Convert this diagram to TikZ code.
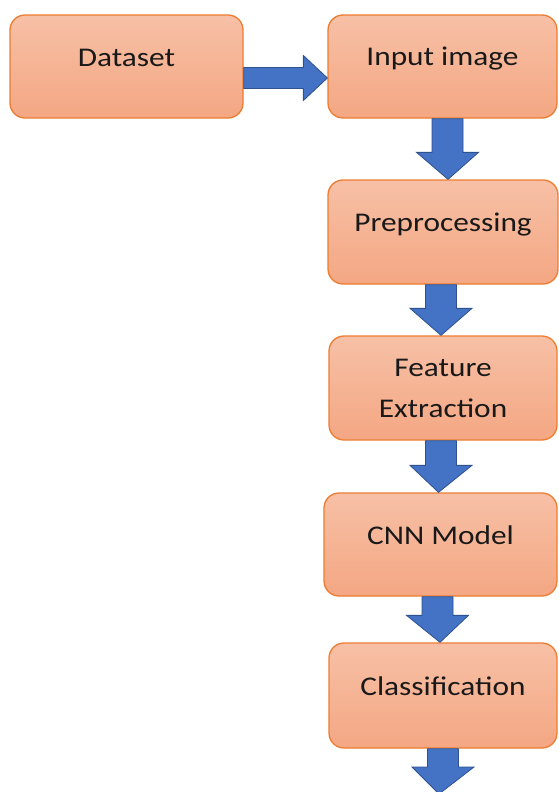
\documentclass[tikz,border=0pt]{standalone}
\usepackage{fontspec}
\setmainfont{Carlito}[FakeStretch=1.16]
\usetikzlibrary{calc}

\definecolor{boxtop}{RGB}{247,192,166}
\definecolor{boxbot}{RGB}{244,167,131}
\definecolor{boxline}{RGB}{237,125,49}
\definecolor{arrfill}{RGB}{68,114,196}
\definecolor{arrline}{RGB}{47,82,143}

\tikzset{
  stepbox/.style={draw=boxline, line width=1.3pt, rounded corners=15pt,
    top color=boxtop, bottom color=boxbot, inner sep=0pt},
  lbl/.style={font=\fontsize{27}{41}\selectfont, text=black!90, align=center, inner sep=0pt},
  blk/.style={fill=arrfill, draw=arrline, line width=0.8pt, line join=miter}
}

% block arrow pointing down: from node, to node/coordinate, horizontal offset
\newcommand\downblk[3]{%
  \path[blk] let \p1=([xshift=#3]#1.south), \p2=([xshift=#3]#2) in
    (\x1-15.5pt,\y1) -- (\x1-15.5pt,\y2+27pt) -- (\x1-31pt,\y2+27pt) --
    (\x2,\y2) -- (\x1+31pt,\y2+27pt) -- (\x1+15.5pt,\y2+27pt) --
    (\x1+15.5pt,\y1) -- cycle;}

\begin{document}
\begin{tikzpicture}[x=1pt,y=-1pt]
  \fill[white] (0,0) rectangle (559,792);
  \useasboundingbox (0,0) rectangle (559,792);

  % process boxes
  \node[stepbox, minimum width=233pt, minimum height=103pt] (ds) at (126.5,66.5) {};
  \node[stepbox, minimum width=229pt, minimum height=103pt] (in) at (442.5,66.5) {};
  \node[stepbox, minimum width=230pt, minimum height=104pt] (pp) at (443,232) {};
  \node[stepbox, minimum width=228pt, minimum height=104pt] (fe) at (443,388) {};
  \node[stepbox, minimum width=233pt, minimum height=103pt] (cnn) at (440.5,544.5) {};
  \node[stepbox, minimum width=228pt, minimum height=105pt] (cl) at (443,695.5) {};
  \coordinate (out) at (439,794);

  % box labels
  \node[lbl, anchor=base] (dst) at (ds.center) {Dataset};
  \node[lbl, anchor=base] (int) at ([yshift=0.5pt]in.center) {Input image};
  \node[lbl, anchor=base] (ppt) at ([yshift=1pt]pp.center) {Preprocessing};
  \node[lbl] (fet) at ([yshift=0pt]fe.center) {Feature\\Extraction};
  \node[lbl, anchor=base] (cnnt) at ([yshift=0.5pt]cnn.center) {CNN Model};
  \node[lbl, anchor=base] (clt) at ([yshift=0.5pt]cl.center) {Classification};

  % block arrows
  \path[blk] let \p1=([yshift=-11.5pt]ds.east), \p2=([yshift=-11.5pt]in.west) in
    (\x1,\y1+10.5pt) -- (\x2-24pt,\y1+10.5pt) -- (\x2-24pt,\y1+22.5pt) --
    (\x2,\y2) -- (\x2-24pt,\y1-22.5pt) -- (\x2-24pt,\y1-10.5pt) --
    (\x1,\y1-10.5pt) -- cycle;
  \downblk{in}{pp.north}{5pt}
  \downblk{pp}{fe.north}{-2pt}
  \downblk{fe}{cnn.north}{-2pt}
  \downblk{cnn}{cl.north}{-3pt}
  \downblk{cl}{out}{0pt}
\end{tikzpicture}
\end{document}
